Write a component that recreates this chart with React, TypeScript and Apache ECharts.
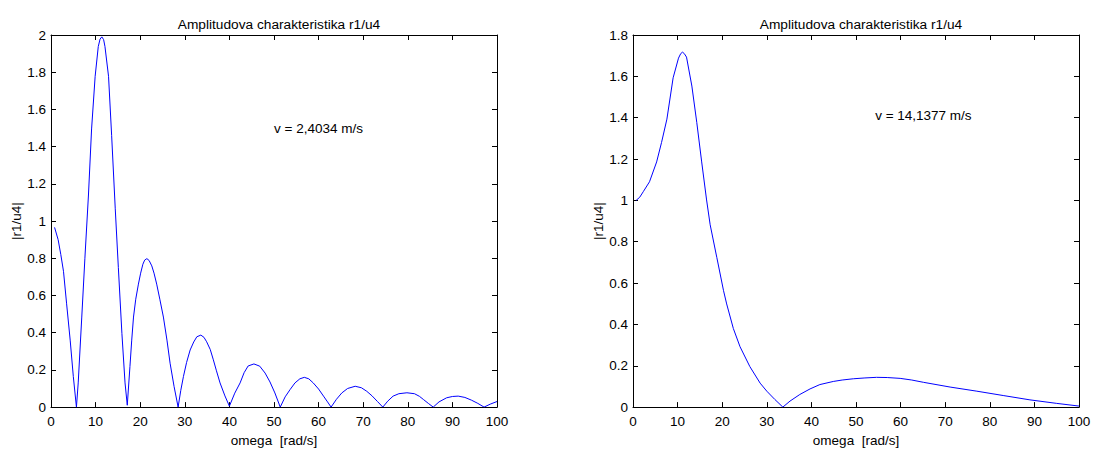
import React, { useEffect, useRef } from "react";
import * as echarts from "echarts";

const titleText = "Amplitudova charakteristika r1/u4";
const xName = "omega  [rad/s]";
const yName = "|r1/u4|";

const leftOmega = [0.8, 1.6, 2.2, 2.8, 3.5, 4.3, 5.0, 5.7, 6.1, 6.9, 7.6, 8.4, 9.1, 9.9, 10.6, 11.0, 11.4, 11.8, 12.1, 12.9, 13.6, 14.4, 15.1, 15.9, 16.6, 17.1, 17.7, 18.1, 18.5, 19.0, 19.6, 20.1, 20.6, 21.0, 21.5, 22.0, 22.6, 23.1, 23.7, 24.4, 25.2, 26.0, 26.7, 27.6, 28.5, 29.1, 29.7, 30.4, 31.2, 32.0, 32.7, 33.6, 34.3, 34.9, 35.7, 36.4, 37.1, 37.9, 39.0, 40.0, 41.2, 42.4, 43.3, 44.2, 45.5, 46.8, 48.0, 49.1, 50.2, 51.4, 52.5, 53.6, 54.7, 55.8, 56.8, 57.8, 58.8, 60.0, 61.1, 62.0, 62.8, 64.0, 65.2, 66.5, 68.2, 69.6, 70.8, 72.0, 73.2, 74.4, 75.5, 76.7, 78.0, 79.8, 81.5, 82.6, 83.5, 84.6, 85.7, 87.0, 88.7, 90.0, 91.3, 92.8, 94.3, 95.7, 97.1, 98.5, 100];
const leftAmp = [0.966, 0.9, 0.82, 0.73, 0.555, 0.36, 0.165, 0.0, 0.13, 0.484, 0.8, 1.14, 1.495, 1.778, 1.938, 1.978, 1.99, 1.975, 1.938, 1.778, 1.459, 1.069, 0.75, 0.395, 0.13, 0.01, 0.218, 0.36, 0.484, 0.58, 0.661, 0.72, 0.768, 0.79, 0.798, 0.788, 0.759, 0.72, 0.661, 0.58, 0.484, 0.36, 0.236, 0.11, 0.0, 0.09, 0.165, 0.24, 0.307, 0.35, 0.378, 0.387, 0.375, 0.351, 0.31, 0.254, 0.195, 0.13, 0.06, 0.005, 0.075, 0.13, 0.185, 0.221, 0.232, 0.22, 0.183, 0.135, 0.076, 0.0, 0.055, 0.094, 0.13, 0.152, 0.16, 0.152, 0.13, 0.097, 0.059, 0.028, 0.0, 0.042, 0.076, 0.1, 0.112, 0.104, 0.085, 0.06, 0.03, 0.0, 0.032, 0.059, 0.072, 0.077, 0.072, 0.058, 0.041, 0.02, 0.0, 0.028, 0.05, 0.057, 0.059, 0.052, 0.037, 0.02, 0.0, 0.016, 0.03];

const rightOmega = [0.7, 1.5, 2.3, 3.7, 5.3, 6.4, 7.6, 9.0, 10.2, 10.7, 11.1, 11.5, 12.0, 13.2, 14.3, 15.4, 16.5, 17.3, 18.8, 20.3, 21.0, 22.5, 24.0, 26.2, 28.5, 30.0, 31.8, 33.6, 35.2, 37.4, 39.7, 41.9, 44.9, 46.9, 49.4, 52.0, 54.6, 57.0, 59.9, 62.5, 65.1, 71.1, 77.1, 83.0, 89.0, 95.0, 100];
const rightAmp = [1.0, 1.015, 1.042, 1.09, 1.186, 1.28, 1.393, 1.593, 1.688, 1.71, 1.717, 1.71, 1.693, 1.553, 1.377, 1.186, 1.002, 0.882, 0.723, 0.563, 0.499, 0.38, 0.292, 0.196, 0.116, 0.077, 0.037, 0.0, 0.029, 0.061, 0.088, 0.109, 0.124, 0.131, 0.137, 0.141, 0.144, 0.143, 0.139, 0.131, 0.12, 0.097, 0.077, 0.056, 0.035, 0.018, 0.005];

const leftNote = "v = 2,4034 m/s";
const rightNote = "v = 14,1377 m/s";
const leftNoteAt = [50, 1.5];
const rightNoteAt = [54.3, 1.41];

const FONT = "'Liberation Sans', Arial, Helvetica, sans-serif";

export default function App() {
  const ref = useRef<HTMLDivElement>(null);
  useEffect(() => {
    if (!ref.current) return;
    const chart = echarts.init(ref.current, undefined, { renderer: "svg" });
    const axisLine = { show: true, onZero: false, lineStyle: { color: "#000", width: 1 } };
    const tick = { show: true, inside: true, length: 5, lineStyle: { color: "#000" } };
    const label = { color: "#000", fontSize: 13.5, fontFamily: FONT };
    const grids = [
      { left: 51, top: 35, width: 446, height: 376 },
      { left: 633, top: 35, width: 446, height: 376 },
    ];
    const xAxes: any[] = [];
    const yAxes: any[] = [];
    const yMax = [2, 1.8];
    [0, 1].forEach((g) => {
      xAxes.push({
        type: "value", gridIndex: g, min: 0, max: 100, interval: 10, position: "bottom",
        axisLine, axisTick: tick, splitLine: { show: false },
        axisLabel: { ...label, margin: 7 },
        name: xName, nameLocation: "middle", nameGap: 25,
        nameTextStyle: { color: "#000", fontSize: 13.5, fontFamily: FONT },
      });
      xAxes.push({
        type: "value", gridIndex: g, min: 0, max: 100, interval: 10, position: "top",
        axisLine, axisTick: tick, splitLine: { show: false }, axisLabel: { show: false },
      });
      yAxes.push({
        type: "value", gridIndex: g, min: 0, max: yMax[g], interval: 0.2, position: "left",
        axisLine, axisTick: tick, splitLine: { show: false },
        axisLabel: { ...label, margin: 5 },
        name: yName, nameLocation: "middle", nameGap: 27, nameRotate: 90,
        nameTextStyle: { color: "#000", fontSize: 13.5, fontFamily: FONT },
      });
      yAxes.push({
        type: "value", gridIndex: g, min: 0, max: yMax[g], interval: 0.2, position: "right",
        axisLine, axisTick: tick, splitLine: { show: false }, axisLabel: { show: false },
      });
    });
    const mk = (at: number[], text: string) => ({
      symbol: "circle", symbolSize: 0, silent: true,
      data: [{ coord: at, value: 0 }],
      label: { show: true, position: "right", distance: 0, formatter: text, color: "#000", fontSize: 13.5, fontFamily: FONT },
    });
    const titleStyle = { color: "#000", fontSize: 13.7, fontWeight: "normal", fontFamily: FONT };
    chart.setOption({
      animation: false,
      backgroundColor: "#fff",
      title: [
        { text: titleText, left: 274, top: 12, textAlign: "center", textStyle: titleStyle },
        { text: titleText, left: 856, top: 12, textAlign: "center", textStyle: titleStyle },
      ],
      grid: grids,
      xAxis: xAxes,
      yAxis: yAxes,
      series: [
        {
          type: "line", xAxisIndex: 0, yAxisIndex: 0, showSymbol: false, symbol: "none",
          lineStyle: { color: "#0000ff", width: 1 },
          data: leftOmega.map((w, i) => [w, leftAmp[i]]),
          markPoint: mk(leftNoteAt, leftNote),
        },
        {
          type: "line", xAxisIndex: 2, yAxisIndex: 2, showSymbol: false, symbol: "none",
          lineStyle: { color: "#0000ff", width: 1 },
          data: rightOmega.map((w, i) => [w, rightAmp[i]]),
          markPoint: mk(rightNoteAt, rightNote),
        },
      ],
    });
    return () => chart.dispose();
  }, []);
  return <div ref={ref} style={{ position: "fixed", left: 0, top: 0, width: 1094, height: 452, background: "#fff" }} />;
}
